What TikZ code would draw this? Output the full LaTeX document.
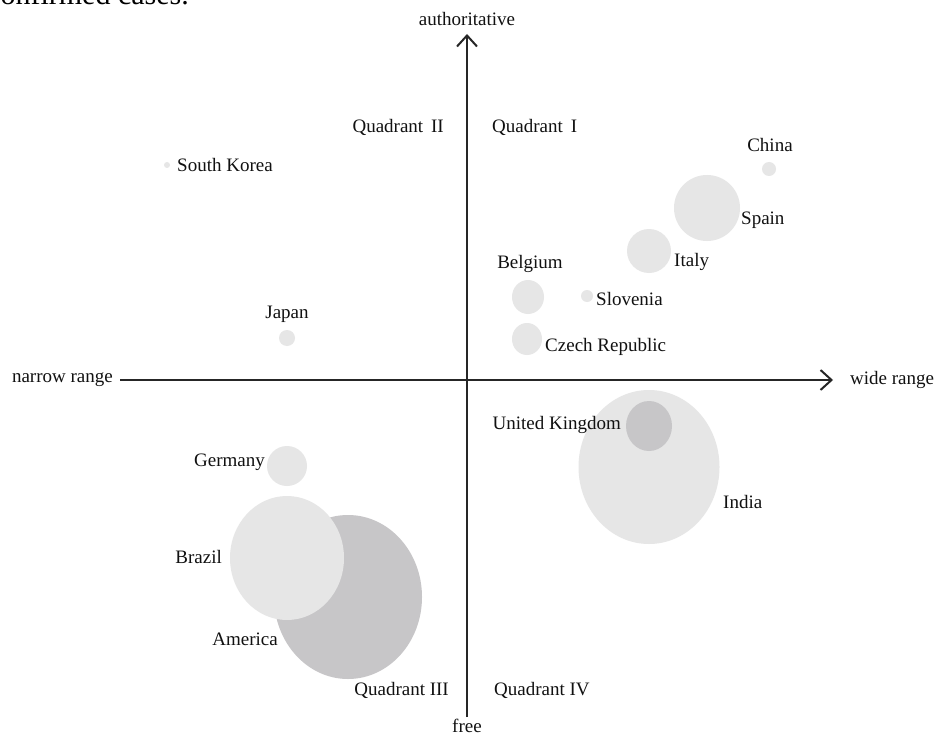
\documentclass[tikz,border=0pt]{standalone}
\usepackage{fontspec}
\setmainfont{Liberation Serif}
\usetikzlibrary{arrows.meta,shapes.geometric}
\definecolor{bubblelight}{HTML}{E6E6E6}
\definecolor{bubbledark}{HTML}{C7C6C8}
\definecolor{axisgray}{HTML}{262626}
\definecolor{txt}{HTML}{111111}
\tikzset{
  lbl/.style={text=txt, inner sep=0pt, font=\fontsize{19}{21}\selectfont},
  bubble/.style={ellipse, inner sep=0pt, draw=none, fill=bubblelight},
  darkbubble/.style={bubble, fill=bubbledark},
  axis/.style={draw=axisgray, line width=2pt, -{Straight Barb[length=11pt,width=20pt,line width=2pt]}},
}
\begin{document}
\begin{tikzpicture}[x=1pt,y=-1pt]
\useasboundingbox (0,0) rectangle (936,738);
\fill[white] (0,0) rectangle (936,738);
\begin{scope}
\clip (0,0) rectangle (936,738);
\node[anchor=base west, inner sep=0pt, text=black, font=\fontsize{30}{32}\selectfont] (topline) at (-13,5) {confirmed cases.};
\end{scope}
% bubbles
\node[darkbubble, minimum width=148pt, minimum height=164pt] (america) at (348,597) {};
\node[bubble, minimum width=114pt, minimum height=124pt] (brazil) at (287,558) {};
\node[bubble, minimum width=40pt, minimum height=40pt] (germany) at (287,466) {};
\node[bubble, minimum width=141pt, minimum height=154pt] (india) at (649,467) {};
\node[darkbubble, minimum width=46pt, minimum height=50pt] (uk) at (649,426) {};
\node[bubble, minimum width=66pt, minimum height=66pt] (spain) at (707,208) {};
\node[bubble, minimum width=44pt, minimum height=44pt] (italy) at (649,251) {};
\node[bubble, minimum width=32pt, minimum height=34pt] (belgium) at (528,297) {};
\node[bubble, minimum width=30pt, minimum height=32pt] (czech) at (527,339) {};
\node[bubble, minimum width=12pt, minimum height=12pt] (slovenia) at (587,296) {};
\node[bubble, minimum width=14pt, minimum height=14pt] (china) at (769,169) {};
\node[bubble, minimum width=16pt, minimum height=16pt] (japan) at (287,338) {};
\node[bubble, minimum width=6pt, minimum height=6pt] (korea) at (167,165) {};
% axes labels
\node[lbl] (auth) at (467,19) {authoritative};
\node[lbl] (free) at (467,726) {free};
\node[lbl, anchor=east] (narrow) at (113,380) {narrow range};
\node[lbl, anchor=west] (wide) at (850,380) {wide range};
\coordinate (hstart) at (120,380);
\coordinate (hend) at (833,380);
\coordinate (vstart) at (467,717);
\coordinate (vend) at (467,34);
\draw[axis] (hstart) -- (hend);
\draw[axis] (vstart) -- (vend);
% quadrant labels
\node[lbl, anchor=east] (q2) at (444,127) {Quadrant\, II};
\node[lbl, anchor=west] (q1) at (492,127) {Quadrant\, I};
\node[lbl, anchor=east] (q3) at (449,690) {Quadrant III};
\node[lbl, anchor=west] (q4) at (494,690) {Quadrant IV};
% country labels
\node[lbl, anchor=west] (tkorea) at (177,165) {South Korea};
\node[lbl] (tchina) at (770,145) {China};
\node[lbl, anchor=west] (tspain) at (741,220) {Spain};
\node[lbl, anchor=west] (titaly) at (674,262) {Italy};
\node[lbl] (tbelgium) at (530,264) {Belgium};
\node[lbl, anchor=west] (tslovenia) at (596,299) {Slovenia};
\node[lbl, anchor=west] (tczech) at (545,347) {Czech Republic};
\node[lbl] (tjapan) at (287,314) {Japan};
\node[lbl, anchor=east] (tuk) at (621,425) {United Kingdom};
\node[lbl, anchor=west] (tindia) at (723,502) {India};
\node[lbl, anchor=east] (tgermany) at (265,462) {Germany};
\node[lbl, anchor=east] (tbrazil) at (222,557) {Brazil};
\node[lbl, anchor=east] (tamerica) at (278,639) {America};
\end{tikzpicture}
\end{document}
